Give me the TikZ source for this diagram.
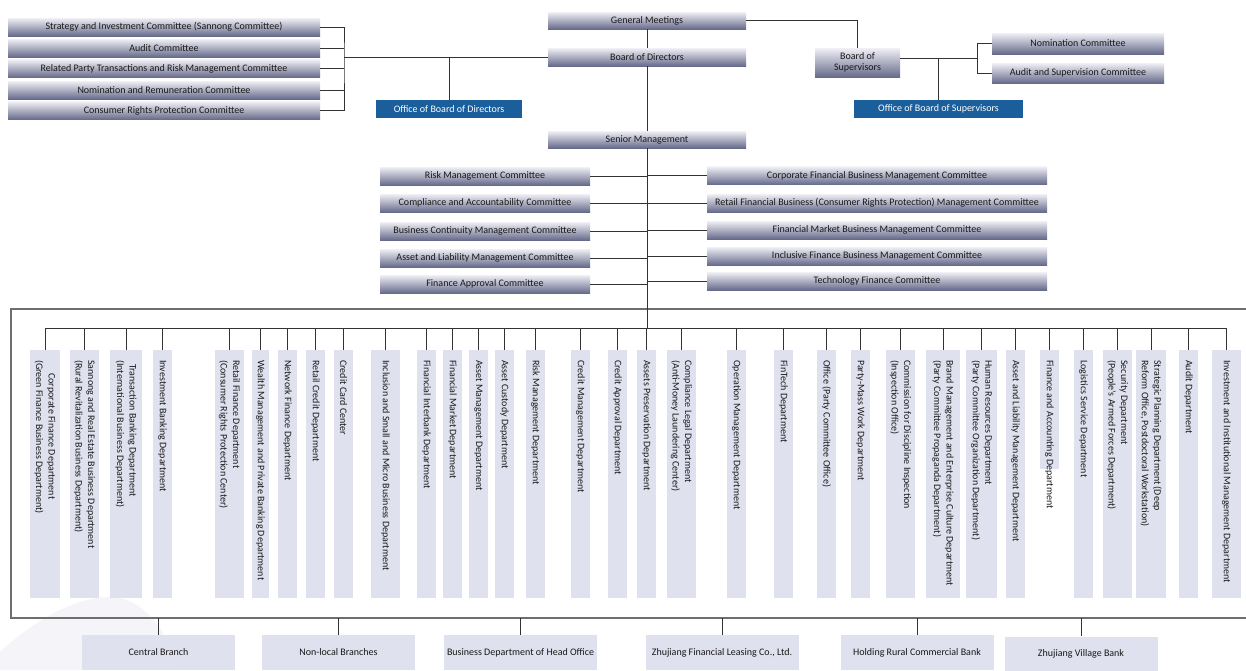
\documentclass[tikz,border=0pt]{standalone}
\usepackage{fontspec}
\setmainfont{Carlito}
\usetikzlibrary{calc}
\definecolor{boxtop}{HTML}{F0F0F6}
\definecolor{boxbot}{HTML}{676B8B}
\definecolor{deptfill}{HTML}{DFE1EE}
\definecolor{officeblue}{HTML}{1A5E9B}
\definecolor{framegrey}{HTML}{6E6E6E}
\definecolor{wmark}{HTML}{F4F4F9}
\def\dept(#1)(#2:#3:#4)#5{%
	\node[deptbox, minimum width=#3, minimum height=#4] (#1) at (#2, 350) {};
	\node[depttext] (#1t) at (#2, 360) {#5};
	\draw[link] (#1.north) -- (#1.north |- bus);
}

\begin{document}
\begin{tikzpicture}[x=1pt, y=-1pt,
	link/.style={draw=black!80, line width=0.9pt},
	frame/.style={draw=framegrey, line width=1.1pt},
	topbox/.style={top color=boxtop, bottom color=boxbot, text=black!90, inner sep=0pt, font=\fontsize{10}{11.5}\selectfont},
	officebox/.style={fill=officeblue, text=white, inner sep=0pt, font=\fontsize{10}{11.5}\selectfont},
	deptbox/.style={fill=deptfill, anchor=north, inner sep=0pt},
	depttext/.style={rotate=-90, anchor=west, inner sep=0pt, align=left, text=black!90, font=\fontsize{10}{12.5}\selectfont},
	branchbox/.style={fill=deptfill, minimum width=153, minimum height=35, inner sep=0pt, text=black!90, font=\fontsize{10}{11.5}\selectfont}]
			%%%%% START %%%%%
			\useasboundingbox (0,0) rectangle (1246,670);
			\fill[wmark] (0,670) -- (0,652) .. controls (40,615) and (80,597) .. (110,597) .. controls (140,597) and (165,625) .. (180,670) -- cycle;
			
			\draw[frame] (1246,309) -- (11,309) -- (11,618) -- (1246,618);
			\coordinate (bus) at (0,328);
			\coordinate (fb) at (0,618);
			
			% board committees
			\node[topbox, minimum width=312, minimum height=18] (sc1) at (164,27) {Strategy and Investment Committee (Sannong Committee)};
			\node[topbox, minimum width=312, minimum height=18] (sc2) at (164,48) {Audit Committee};
			\node[topbox, minimum width=312, minimum height=18] (sc3) at (164,68.5) {Related Party Transactions and Risk Management Committee};
			\node[topbox, minimum width=312, minimum height=18] (sc4) at (164,90) {Nomination and Remuneration Committee};
			\node[topbox, minimum width=312, minimum height=18] (sc5) at (164,110.5) {Consumer Rights Protection Committee};
			
			\node[topbox, minimum width=198, minimum height=17] (gm) at (647,20.5) {General Meetings};
			\node[topbox, minimum width=198, minimum height=18] (bod) at (647,57) {Board of Directors};
			\node[topbox, minimum width=198, minimum height=17] (sm) at (647,139.5) {Senior Management};
			\node[officebox, minimum width=146, minimum height=18] (obd) at (449,109) {Office of Board of Directors};
			
			\node[topbox, minimum width=85, minimum height=29, align=center] (bos) at (857.5,62.5) {Board of\\Supervisors};
			\node[topbox, minimum width=172, minimum height=21] (nc) at (1078,43.5) {Nomination Committee};
			\node[topbox, minimum width=172, minimum height=20] (asc) at (1078,73) {Audit and Supervision Committee};
			\node[officebox, minimum width=169, minimum height=18] (obs) at (938.5,109) {Office of Board of Supervisors};
			
			\coordinate (brk) at (344,57);
			\coordinate (sbrk) at (977,58);
			\draw[link] (sc1.east) -| (brk) |- (sc5.east);
			\draw[link] (sc2.east) -- (sc2.east -| brk);
			\draw[link] (sc3.east) -- (sc3.east -| brk);
			\draw[link] (sc4.east) -- (sc4.east -| brk);
			\draw[link] (brk) -- (bod.west);
			\draw[link] (obd.north) -- (obd.north |- brk);
			\draw[link] (gm.south) -- (bod.north);
			\draw[link] (bod.south) -- (sm.north);
			\draw[link] (gm.east) -| (bos.north);
			\draw[link] (bos.east |- sbrk) -- (sbrk);
			\draw[link] (nc.west) -| (sbrk) |- (asc.west);
			\draw[link] (obs.north) -- (obs.north |- sbrk);
			
			% management committees
			\node[topbox, minimum width=210, minimum height=18] (lc1) at (485,176) {Risk Management Committee};
			\node[topbox, minimum width=210, minimum height=18] (lc2) at (485,203) {Compliance and Accountability Committee};
			\node[topbox, minimum width=210, minimum height=18] (lc3) at (485,231) {Business Continuity Management Committee};
			\node[topbox, minimum width=210, minimum height=18] (lc4) at (485,258) {Asset and Liability Management Committee};
			\node[topbox, minimum width=210, minimum height=18] (lc5) at (485,284) {Finance Approval Committee};
			\node[topbox, minimum width=340, minimum height=18] (rc1) at (877,175.5) {Corporate Financial Business Management Committee};
			\node[topbox, minimum width=340, minimum height=18] (rc2) at (877,203) {Retail Financial Business (Consumer Rights Protection) Management Committee};
			\node[topbox, minimum width=340, minimum height=18] (rc3) at (877,230) {Financial Market Business Management Committee};
			\node[topbox, minimum width=340, minimum height=18] (rc4) at (877,256) {Inclusive Finance Business Management Committee};
			\node[topbox, minimum width=340, minimum height=18] (rc5) at (877,281) {Technology Finance Committee};
			
			\draw[link] (sm.south) -- (sm.south |- bus);
			\draw[link] (lc1.east) -- (lc1.east -| sm.south);
			\draw[link] (lc2.east) -- (lc2.east -| sm.south);
			\draw[link] (lc3.east) -- (lc3.east -| sm.south);
			\draw[link] (lc4.east) -- (lc4.east -| sm.south);
			\draw[link] (lc5.east) -- (lc5.east -| sm.south);
			\draw[link] (rc1.west) -- (rc1.west -| sm.south);
			\draw[link] (rc2.west) -- (rc2.west -| sm.south);
			\draw[link] (rc3.west) -- (rc3.west -| sm.south);
			\draw[link] (rc4.west) -- (rc4.west -| sm.south);
			\draw[link] (rc5.west) -- (rc5.west -| sm.south);
			
			% departments
			\dept(d1)(45:30:248){\hspace*{13pt}Corporate Finance Department\\(Green Finance Business Department)}
			\dept(d2)(84.5:29:248){Sannong and Real Estate Business Department\\(Rural Revitalization Business Department)}
			\dept(d3)(126:32:248){\hspace*{4pt}Transaction Banking Department\\(International Business Department)}
			\dept(d4)(162.5:19:248){Investment Banking Department}
			\dept(d5)(229.5:29:248){Retail Finance Department\\(Consumer Rights Protection Center)}
			\dept(d6)(260.5:17:248){Wealth Management and Private Banking Department}
			\dept(d7)(287.5:19:248){Network Finance Department}
			\dept(d8)(315.5:19:248){Retail Credit Department}
			\dept(d9)(343.5:19:248){Credit Card Center}
			\dept(d10)(385.5:29:248){Inclusion and Small and Micro Business Department}
			\dept(d11)(426.5:19:248){Financial Interbank Department}
			\dept(d12)(452.5:19:248){Financial Market Department}
			\dept(d13)(478.5:19:248){Asset Management Department}
			\dept(d14)(504.5:19:248){Asset Custody Department}
			\dept(d15)(535.5:19:248){Risk Management Department}
			\dept(d16)(580.5:19:248){Credit Management Department}
			\dept(d17)(617.5:19:248){Credit Approval Department}
			\dept(d18)(646.5:19:248){Assets Preservation Department}
			\dept(d19)(681.5:29:248){Compliance Legal Department\\(Anti-Money Laundering Center)}
			\dept(d20)(736.5:19:248){Operation Management Department}
			\dept(d21)(783.5:19:248){FinTech Department}
			\dept(d22)(826.5:19:248){Office (Party Committee Office)}
			\dept(d23)(860.5:19:248){Party-Mass Work Department}
			\dept(d24)(900.5:29:248){Commission for Discipline Inspection\\(Inspection Office)}
			\dept(d25)(943:34:248){Brand Management and Enterprise Culture Department\\(Party Committee Propaganda Department)}
			\dept(d26)(981.5:31:248){Human Resources Department\\(Party Committee Organization Department)}
			\dept(d27)(1015.5:19:248){Asset and Liability Management Department}
			\dept(d28)(1049.5:19:119){Finance and Accounting Department}
			\dept(d29)(1083.5:19:248){Logistics Service Department}
			\dept(d30)(1117.5:29:248){Security Department\\(People's Armed Forces Department)}
			\dept(d31)(1151:30:248){Strategic Planning Department (Deep\\Reform Office, Postdoctoral Workstation)}
			\dept(d32)(1188.5:19:248){Audit Department}
			\dept(d33)(1226.5:29:248){Investment and Institutional Management Department}
			\draw[link] (d1.north |- bus) -- (d33.north |- bus);
			
			% branches
			\node[branchbox] (b1) at (158.5,652.5) {Central Branch};
			\node[branchbox] (b2) at (338.5,652.5) {Non-local Branches};
			\node[branchbox] (b3) at (520.5,652.5) {Business Department of Head Office};
			\node[branchbox] (b4) at (722,652.5) {Zhujiang Financial Leasing Co., Ltd.};
			\node[branchbox] (b5) at (917,652.5) {Holding Rural Commercial Bank};
			\node[branchbox] (b6) at (1081,654) {Zhujiang Village Bank};
			\draw[link] (b1.north) -- (b1.north |- fb);
			\draw[link] (b2.north) -- (b2.north |- fb);
			\draw[link] (b3.north) -- (b3.north |- fb);
			\draw[link] (b4.north) -- (b4.north |- fb);
			\draw[link] (b5.north) -- (b5.north |- fb);
			\draw[link] (b6.north) -- (b6.north |- fb);
			%%%%% END %%%%%
\end{tikzpicture}
\end{document}
